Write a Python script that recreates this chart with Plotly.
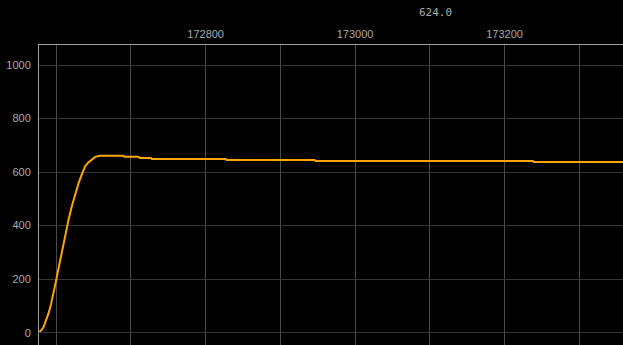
import plotly.graph_objects as go

# Data
x_vals = [172577.5, 172579.4, 172583, 172586.1, 172589.7, 172592.8, 172596, 172599.5,
          172602.7, 172606.2, 172610.2, 172613.4, 172616.9, 172621.4, 172625.9,
          172629.9, 172634.8, 172638.8, 172642.3, 172646.9, 172652.2, 172658,
          172690, 172691, 172710, 172712, 172727, 172728, 172827, 172828,
          172946, 172947, 173238, 173239, 173359]
y_vals = [4, 7, 20, 41, 72, 103, 140, 190,
          234, 283, 340, 380, 427, 477, 521,
          558, 595, 622, 634, 646, 657, 661,
          661, 657, 657, 653, 653, 649, 649, 645,
          645, 642, 642, 638, 638]

x_major = [172600, 172800, 173000, 173200]
x_major_text = ["", "172800", "173000", "173200"]
y_ticks = [0, 200, 400, 600, 800, 1000]
title_text = "624.0"

fig = go.Figure()
fig.add_trace(go.Scatter(
    x=x_vals, y=y_vals, mode="lines",
    line=dict(color="#FFA500", width=2),
    hoverinfo="skip", showlegend=False,
))

font = dict(family="Liberation Sans", size=11, color="#aaaaaa")

fig.update_layout(
    width=623, height=345,
    margin=dict(l=39, r=0, t=45, b=0, pad=0),
    paper_bgcolor="#000000", plot_bgcolor="#000000",
    font=font,
    xaxis=dict(
        side="top", range=[172577, 173358.5],
        tickvals=x_major, ticktext=x_major_text,
        showgrid=True, gridcolor="#4a4a4a", gridwidth=1,
        minor=dict(dtick=100, tick0=172600, showgrid=True, gridcolor="#4a4a4a", gridwidth=1),
        showline=True, linecolor="#a0a0a0", linewidth=1,
        ticks="", zeroline=False, tickfont=font,
        ticklabelstandoff=2,
    ),
    yaxis=dict(
        range=[-46, 1075],
        tickvals=y_ticks,
        showgrid=True, gridcolor="#363636", gridwidth=1,
        showline=True, linecolor="#a0a0a0", linewidth=1,
        ticks="", zeroline=False, tickfont=font,
        ticklabelstandoff=5,
    ),
    annotations=[dict(
        text=title_text,
        x=(435 - 39) / (623 - 39), y=1 + (45 - 13) / 300.0,
        xref="paper", yref="paper", xanchor="center", yanchor="middle",
        showarrow=False, font=dict(family="DejaVu Sans Mono", size=11, color="#aaaaaa"),
    )],
)

fig.write_html("out.html")
